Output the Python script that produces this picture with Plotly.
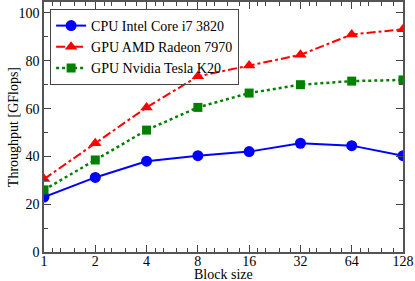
import plotly.graph_objects as go

block_sizes = [1, 2, 4, 8, 16, 32, 64, 128]
tick_labels = ["1", "2", "4", "8", "16", "32", "64", "128"]
cpu_intel = [23, 31.2, 38, 40.3, 42, 45.5, 44.5, 40.3]
gpu_amd = [30.5, 45.5, 60.5, 73.5, 78, 82.5, 91, 93.2]
gpu_nvidia = [26, 38.5, 51, 60.5, 66.5, 70, 71.5, 72]
names = ["CPU Intel Core i7 3820", "GPU AMD Radeon 7970", "GPU Nvidia Tesla K20"]

minor_x = [b * f for b in block_sizes[:-1] for f in (1.125, 1.25, 1.5, 1.75)]

FONT = "Liberation Serif"
fig = go.Figure()
fig.add_trace(go.Scatter(x=block_sizes, y=cpu_intel, name=names[0], mode="lines+markers",
                         line=dict(color="#0000ff", width=2),
                         marker=dict(symbol="circle", size=11, color="#0000ff")))
fig.add_trace(go.Scatter(x=block_sizes, y=gpu_amd, name=names[1], mode="lines+markers",
                         line=dict(color="#ff0000", width=2, dash="dashdot"),
                         marker=dict(symbol="triangle-up", size=11, color="#ff0000")))
fig.add_trace(go.Scatter(x=block_sizes, y=gpu_nvidia, name=names[2], mode="lines+markers",
                         line=dict(color="#008000", width=2.5, dash="dot"),
                         marker=dict(symbol="square", size=9, color="#008000")))

fig.update_layout(
    width=415, height=281,
    margin=dict(l=44, r=12, t=2, b=29),
    paper_bgcolor="white", plot_bgcolor="white",
    font=dict(family=FONT, size=14, color="black"),
    showlegend=True,
    legend=dict(x=0.017, y=0.972, xanchor="left", yanchor="top",
                bordercolor="#444", borderwidth=1, bgcolor="rgba(255,255,255,0)",
                font=dict(family=FONT, size=14), itemwidth=30,
                tracegroupgap=0),
    annotations=[
        dict(text="Block size", xref="paper", yref="paper", x=0.5, y=-0.089,
             xanchor="center", yanchor="middle", showarrow=False,
             font=dict(family=FONT, size=14)),
        dict(text="Throughput [GFlops]", xref="paper", yref="paper", x=-0.086, y=0.5,
             xanchor="center", yanchor="middle", textangle=-90, showarrow=False,
             font=dict(family=FONT, size=14)),
    ],
)
fig.update_xaxes(
    type="log", range=[0, 2.10721], tickmode="array", tickvals=block_sizes, ticktext=tick_labels,
    ticks="inside", ticklen=7, tickwidth=1, tickcolor="#444",
    showline=True, linecolor="#555", linewidth=1.5, mirror="allticks",
    showgrid=False, zeroline=False,
    minor=dict(tickmode="array", tickvals=minor_x, ticks="inside", ticklen=4, tickcolor="#444", showgrid=False),
    ticklabelstandoff=-5,
    tickfont=dict(family=FONT, size=14), automargin=False,
)
fig.update_yaxes(
    range=[0, 104.6], tickmode="array", tickvals=[0, 20, 40, 60, 80, 100],
    ticks="inside", ticklen=7, tickwidth=1, tickcolor="#444",
    showline=True, linecolor="#555", linewidth=1.5, mirror="allticks",
    showgrid=False, zeroline=False,
    minor=dict(tickmode="array", tickvals=[10, 30, 50, 70, 90], ticks="inside", ticklen=4, tickcolor="#444", showgrid=False),
    tickfont=dict(family=FONT, size=14), automargin=False,
)
fig.write_html("out.html", config={"displayModeBar": False},
               post_script="document.body.style.margin='0';")
